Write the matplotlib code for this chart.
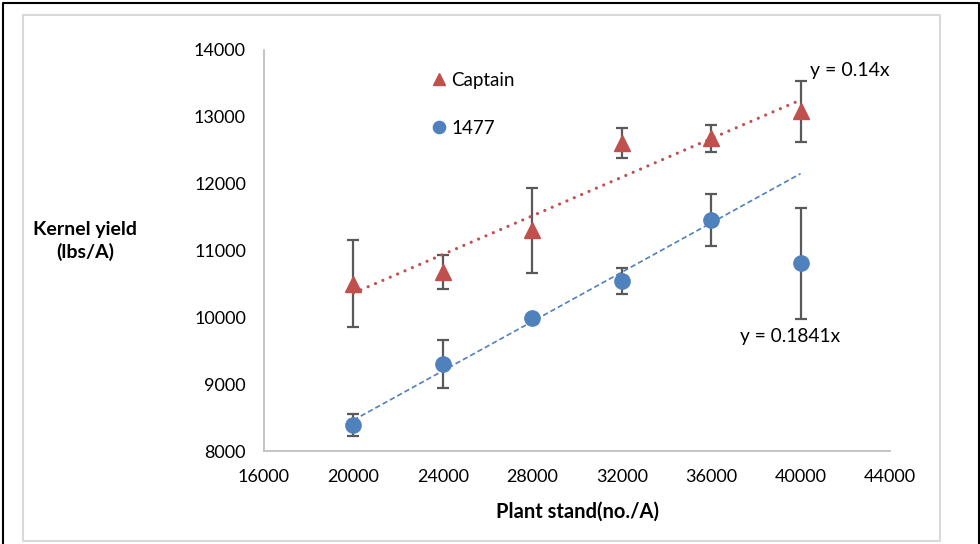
import numpy as np
import matplotlib
matplotlib.use("Agg")
import matplotlib.pyplot as plt
from matplotlib.lines import Line2D

plt.rcParams['font.family'] = ['Lato', 'DejaVu Sans']

# plant stand (no./A)
stand = [20000, 24000, 28000, 32000, 36000, 40000]
# kernel yield (lbs/A) and error bars
captain = [10500, 10675, 11300, 12610, 12680, 13080]
captain_err = [650, 255, 633, 230, 205, 456]
line1477 = [8390, 9300, 9995, 10545, 11456, 10808]
line1477_err = [167, 360, 0, 200, 385, 830]
n_fit_1477 = 5  # trendline for 1477 uses the first five stands

red = '#C0504D'
blue = '#4F81BD'
errc = '#595959'

fig = plt.figure(figsize=(9.8, 5.44), dpi=100)
ax = fig.add_axes([264/980, 1-451/544, 626/980, 401/544])

x = np.array(stand)
ax.errorbar(x, captain, yerr=captain_err, fmt='none', ecolor=errc,
            elinewidth=1.6, capsize=4.5, capthick=1.6, zorder=2)
ax.errorbar(x, line1477, yerr=line1477_err, fmt='none', ecolor=errc,
            elinewidth=1.6, capsize=4.5, capthick=1.6, zorder=2)
ax.plot(x, captain, ls='none', marker='^', ms=11, color=red, mec=red, zorder=3, label='Captain')
ax.plot(x, line1477, ls='none', marker='o', ms=11, color=blue, mec=blue, zorder=3, label='1477')

# linear trendlines
xx = np.array([stand[0], stand[-1]])
k1, b1 = np.polyfit(x, captain, 1)
ax.plot(xx, k1*xx + b1, color=red, lw=2.3, ls=(0, (0.01, 2.5)),
        dash_capstyle='round', zorder=4)
k2, b2 = np.polyfit(x[:n_fit_1477], line1477[:n_fit_1477], 1)
ax.plot(xx, k2*xx + b2, color=blue, lw=1.2, ls=(0, (3.2, 1.8)), zorder=4)

ax.text(0.873, 0.950, 'y = 0.14x', transform=ax.transAxes, fontsize=14,
        ha='left', va='center', color='black')
ax.text(0.760, 0.285, 'y = 0.1841x', transform=ax.transAxes, fontsize=13.8,
        ha='left', va='center', color='black')

ax.set_xlim(16000, 44000)
ax.set_ylim(8000, 14000)
ax.set_xticks(range(16000, 44001, 4000))
ax.set_yticks(range(8000, 14001, 1000))
ax.tick_params(length=0, labelsize=13, pad=13)
for s in ['top', 'right']:
    ax.spines[s].set_visible(False)
for s in ['left', 'bottom']:
    ax.spines[s].set_color('#BFBFBF')
    ax.spines[s].set_linewidth(1.3)

ax.set_xlabel('Plant stand(no./A)', fontsize=14.5, fontweight='bold', labelpad=12)
fig.text(85/980, 1-241/544, 'Kernel yield\n(lbs/A)', fontsize=14, fontweight='bold',
         ha='center', va='center', linespacing=1.35)

leg = fig.legend(loc='upper left', bbox_to_anchor=(431/980, 1-72/544), frameon=False,
                 fontsize=13.5, handlelength=0.8, handletextpad=0.28, labelspacing=1.65,
                 markerscale=0.8, borderpad=0, borderaxespad=0)

# chart frames
fig.add_artist(Line2D([23/980, 940/980, 940/980, 23/980, 23/980],
                      [1-15/544, 1-15/544, 1-541/544, 1-541/544, 1-15/544],
                      transform=fig.transFigure, color='#D9D9D9', lw=1.5))
fig.add_artist(Line2D([3/980, 3/980, 978.5/980, 978.5/980],
                      [0, 1-2.5/544, 1-2.5/544, 0],
                      transform=fig.transFigure, color='black', lw=1.5))

fig.savefig('out.png', dpi=100)
